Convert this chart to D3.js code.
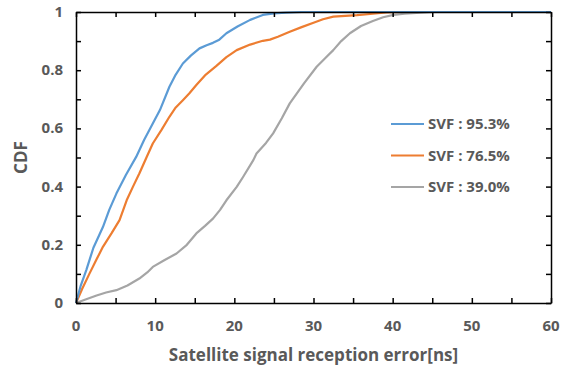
<!DOCTYPE html>
<html>
<head>
<meta charset="utf-8">
<script src="https://cdn.jsdelivr.net/npm/d3@7"></script>
<style>
  body { margin: 0; background: #fff; }
  text { font-family: "Open Sans", Lato, sans-serif; font-weight: bold; fill: #595959; }
</style>
</head>
<body>
<div id="chart"></div>
<script>
// series values (error in ns, cumulative fraction)
const seriesNames = ['SVF : 95.3%', 'SVF : 76.5%', 'SVF : 39.0%'];
const seriesColors = ['#5B9BD5', '#ED7D31', '#A5A5A5'];

const blueX = [0, 0.6, 1.3, 2.2, 3.4, 4.2, 5.1, 6.3, 7.6, 8.6, 9.7, 10.6, 11.8, 12.6, 13.5, 14.5, 15.6, 16.5, 17.3, 18.1, 19.0, 20.4, 22.0, 23.6, 25.0, 26.5, 28.5, 60];
const blueY = [0, 0.06, 0.113, 0.19, 0.261, 0.32, 0.376, 0.44, 0.502, 0.56, 0.617, 0.663, 0.743, 0.785, 0.823, 0.85, 0.875, 0.886, 0.894, 0.905, 0.927, 0.95, 0.973, 0.99, 0.995, 0.998, 1, 1];

const orangeX = [0, 0.8, 1.7, 2.6, 3.4, 4.5, 5.5, 6.4, 7.2, 8.0, 8.9, 9.7, 10.8, 11.8, 12.6, 13.5, 14.3, 15.2, 16.4, 17.7, 19.0, 20.3, 22.0, 23.6, 24.5, 25.5, 27.0, 28.5, 30.0, 31.2, 32.5, 34.0, 35.5, 37.5, 39.2, 41.0, 60];
const orangeY = [0, 0.05, 0.101, 0.15, 0.193, 0.24, 0.285, 0.353, 0.40, 0.445, 0.50, 0.548, 0.595, 0.640, 0.672, 0.697, 0.72, 0.749, 0.785, 0.814, 0.845, 0.869, 0.888, 0.901, 0.905, 0.915, 0.932, 0.948, 0.963, 0.975, 0.984, 0.987, 0.989, 0.994, 0.999, 1, 1];

const grayX = [0, 1.2, 2.6, 3.8, 5.1, 6.5, 8.0, 9.0, 9.7, 11.2, 12.7, 14.0, 15.2, 16.3, 17.3, 18.2, 19.0, 20.3, 21.1, 22.4, 22.8, 24.0, 24.9, 26.0, 27.0, 28.8, 30.4, 31.5, 32.5, 33.5, 34.6, 36.0, 37.5, 38.8, 40.1, 41.5, 43.0, 45.1, 60];
const grayY = [0, 0.012, 0.026, 0.036, 0.044, 0.06, 0.084, 0.105, 0.124, 0.148, 0.170, 0.20, 0.239, 0.265, 0.290, 0.32, 0.353, 0.399, 0.433, 0.491, 0.514, 0.55, 0.583, 0.635, 0.686, 0.755, 0.812, 0.842, 0.869, 0.90, 0.927, 0.952, 0.969, 0.982, 0.990, 0.994, 0.997, 1, 1];

const xTicks = [0, 10, 20, 30, 40, 50, 60];
const yTicks = [0, 0.2, 0.4, 0.6, 0.8, 1];

const series = [
  { name: seriesNames[0], color: seriesColors[0], xs: blueX, ys: blueY },
  { name: seriesNames[1], color: seriesColors[1], xs: orangeX, ys: orangeY },
  { name: seriesNames[2], color: seriesColors[2], xs: grayX, ys: grayY },
];

const width = 569, height = 366;
const margin = { top: 12, right: 18, bottom: 63, left: 76 };
const w = width - margin.left - margin.right;
const h = height - margin.top - margin.bottom;

const svg = d3.select('#chart').append('svg')
  .attr('width', width).attr('height', height);

const g = svg.append('g')
  .attr('transform', `translate(${margin.left},${margin.top})`);

const x = d3.scaleLinear().domain([0, 60]).range([0, w]);
const y = d3.scaleLinear().domain([0, 1]).range([h, 0]);

// curves
const line = d3.line().x((d) => x(d[0])).y((d) => y(d[1]));
g.selectAll('path.curve')
  .data(series.slice().reverse())
  .enter()
  .append('path')
  .attr('class', 'curve')
  .attr('d', (s) => line(s.xs.map((v, i) => [v, s.ys[i]])))
  .attr('fill', 'none')
  .attr('stroke', (s) => s.color)
  .attr('stroke-width', 2.2)
  .attr('stroke-linejoin', 'round');

// frame with inward ticks on all four sides
const tickLen = 5;
const minorX = d3.range(0, 61, 5);
const minorY = d3.range(0, 11).map((d) => d / 10);

const axBottom = g.append('g').attr('transform', `translate(0,${h})`)
  .call(d3.axisBottom(x).tickValues(minorX).tickSizeInner(-tickLen).tickSizeOuter(0).tickFormat(''));
const axTop = g.append('g')
  .call(d3.axisTop(x).tickValues(minorX).tickSizeInner(-tickLen).tickSizeOuter(0).tickFormat(''));
const axLeft = g.append('g')
  .call(d3.axisLeft(y).tickValues(minorY).tickSizeInner(-tickLen).tickSizeOuter(0).tickFormat(''));
const axRight = g.append('g').attr('transform', `translate(${w},0)`)
  .call(d3.axisRight(y).tickValues(minorY).tickSizeInner(-tickLen).tickSizeOuter(0).tickFormat(''));
[axBottom, axTop, axLeft, axRight].forEach((a) => {
  a.selectAll('path, line').attr('stroke', '#000').attr('stroke-width', 1.5);
});

// tick labels
g.selectAll('text.xt')
  .data(xTicks)
  .enter()
  .append('text')
  .attr('x', (d) => x(d))
  .attr('y', h + 28)
  .attr('text-anchor', 'middle')
  .style('font-size', '15px')
  .text((d) => d);

g.selectAll('text.yt')
  .data(yTicks)
  .enter()
  .append('text')
  .attr('x', -13)
  .attr('y', (d) => y(d) + 5)
  .attr('text-anchor', 'end')
  .style('font-size', '15px')
  .text((d) => d);

// axis titles
svg.append('text')
  .attr('x', margin.left + w / 2)
  .attr('y', 361)
  .attr('text-anchor', 'middle')
  .style('font-size', '17px')
  .text('Satellite signal reception error[ns]');

svg.append('text')
  .attr('transform', `translate(27,${margin.top + h / 2}) rotate(-90)`)
  .attr('text-anchor', 'middle')
  .style('font-size', '17px')
  .text('CDF');

// legend
const legend = svg.append('g').attr('transform', 'translate(391,124)');
const item = legend.selectAll('g')
  .data(series)
  .enter()
  .append('g')
  .attr('transform', (d, i) => `translate(0,${i * 31.5})`);
item.append('line')
  .attr('x1', 0).attr('x2', 33)
  .attr('stroke', (d) => d.color)
  .attr('stroke-width', 2.2);
item.append('text')
  .attr('x', 37)
  .attr('y', 5)
  .style('font-size', '15px')
  .text((d) => d.name);
</script>
</body>
</html>
